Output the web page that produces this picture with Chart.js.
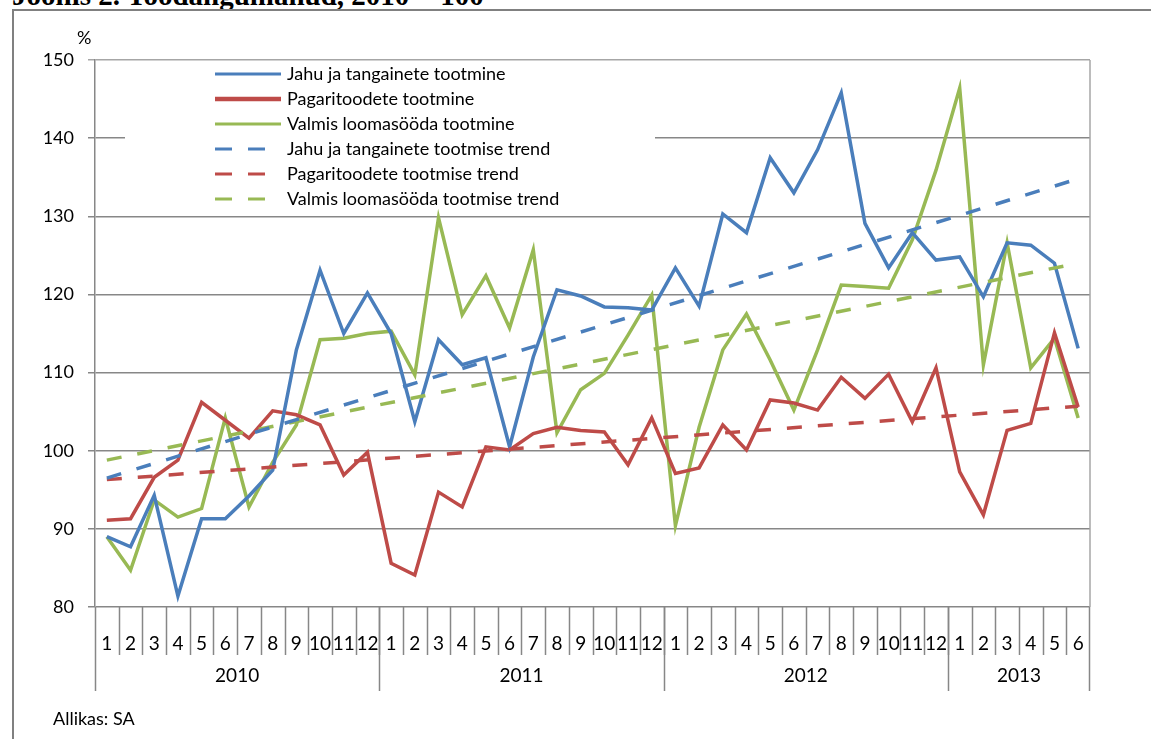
<!DOCTYPE html>
<html>
<head>
<meta charset="utf-8">
<script src="https://cdn.jsdelivr.net/npm/chart.js@4.4.1/dist/chart.umd.min.js"></script>
<style>
  html, body { margin: 0; padding: 0; background: #fff; }
  body { width: 1151px; height: 739px; position: relative; overflow: hidden; font-family: Lato, "Open Sans", sans-serif; }
  #title { position: absolute; left: 12px; top: -21px; font: bold 29px "Liberation Serif", serif; color: #000; white-space: nowrap; }
  #frame { position: absolute; left: 12px; top: 9px; width: 1200px; height: 800px; border-left: 2px solid #808080; border-top: 2px solid #808080; }
  #chart { position: absolute; left: 0; top: 0; }
  #unit { position: absolute; left: 77px; top: 26px; font-size: 18px; color: #000; }
  #source { position: absolute; left: 53px; top: 707px; font-size: 18px; color: #000; }
</style>
</head>
<body>
<div id="title">Joonis 2. Toodangumahud, 2010 = 100</div>
<div id="frame"></div>
<canvas id="chart" width="1151" height="739"></canvas>
<div id="unit">%</div>
<div id="source">Allikas: SA</div>

<script>
  // months per year and the year captions
  const years = ['2010', '2011', '2012', '2013'];
  const monthsPerYear = [12, 12, 12, 6];
  const months = years.flatMap((y, k) => Array.from({ length: monthsPerYear[k] }, (_, m) => String(m + 1)));

  const seriesNames = [
    'Jahu ja tangainete tootmine',
    'Pagaritoodete tootmine',
    'Valmis loomasööda tootmine',
    'Jahu ja tangainete tootmise trend',
    'Pagaritoodete tootmise trend',
    'Valmis loomasööda tootmise trend'
  ];

  const jahu = [89.0, 87.7, 94.3, 81.4, 91.3, 91.3, 94.2, 97.5, 112.9, 123.1, 115.0, 120.2,
                115.0, 103.7, 114.2, 111.0, 111.9, 100.5, 112.0, 120.6, 119.8, 118.4, 118.3, 118.0,
                123.4, 118.5, 130.3, 127.9, 137.5, 133.0, 138.5, 145.8, 129.1, 123.4, 127.9, 124.4,
                124.8, 119.7, 126.6, 126.3, 124.0, 113.1];
  const pagari = [91.1, 91.3, 96.6, 98.8, 106.2, 103.9, 101.6, 105.1, 104.6, 103.3, 96.9, 99.8,
                  85.6, 84.1, 94.7, 92.8, 100.5, 100.1, 102.2, 103.0, 102.6, 102.4, 98.2, 104.2,
                  97.1, 97.8, 103.3, 100.1, 106.5, 106.1, 105.2, 109.4, 106.7, 109.8, 103.7, 110.6,
                  97.3, 91.8, 102.6, 103.5, 115.1, 105.6];
  const sööt = [89.0, 84.7, 93.7, 91.5, 92.6, 104.2, 92.8, 98.5, 103.3, 114.2, 114.4, 115.0,
                115.3, 109.7, 129.8, 117.4, 122.4, 115.7, 125.7, 102.3, 107.8, 109.9, 114.8, 119.9,
                90.4, 103.0, 112.9, 117.5, 111.6, 105.2, 112.9, 121.2, 121.0, 120.8, 127.0, 135.9,
                146.4, 111.0, 126.6, 110.6, 114.4, 104.2];

  // trend lines: value at first and last month
  const jahuTrend = [96.5, 134.8];
  const pagariTrend = [96.3, 105.7];
  const söötTrend = [98.8, 124.0];

  const yTicks = [80, 90, 100, 110, 120, 130, 140, 150];

  const colors = ['#4A7EBB', '#BE4B48', '#98B954'];
  const GRID = '#878787';
  const FONT = 'Lato, "Open Sans", sans-serif';

  function trendData(t) {
    return months.map((_, i) => i === 0 ? t[0] : (i === months.length - 1 ? t[1] : null));
  }

  const datasets = [
    { label: seriesNames[3], data: trendData(jahuTrend), borderColor: colors[0], borderDash: [15, 16], spanGaps: true },
    { label: seriesNames[4], data: trendData(pagariTrend), borderColor: colors[1], borderDash: [15, 16], spanGaps: true },
    { label: seriesNames[5], data: trendData(söötTrend), borderColor: colors[2], borderDash: [15, 16], spanGaps: true },
    { label: seriesNames[0], data: jahu, borderColor: colors[0] },
    { label: seriesNames[1], data: pagari, borderColor: colors[1] },
    { label: seriesNames[2], data: sööt, borderColor: colors[2] }
  ].map(d => Object.assign({ borderWidth: 3.5, pointRadius: 0, tension: 0, fill: false }, d));

  // legend drawn inside the plot, on a white box
  const legendBox = {
    id: 'legendBox',
    beforeDatasetsDraw(chart) {
      const c = chart.ctx;
      const a = chart.chartArea;
      c.save();
      c.fillStyle = '#fff';
      c.fillRect(a.left + 30, a.top + 1, 530, 150);
      c.font = '18px ' + FONT;
      c.textBaseline = 'middle';
      c.fillStyle = '#000';
      seriesNames.forEach((name, i) => {
        const y = a.top + 14 + i * 25;
        const x0 = a.left + 120;
        c.strokeStyle = colors[i % 3];
        c.lineWidth = i === 1 ? 4.5 : 3;
        if (i >= 3) c.setLineDash([17, 16]); else c.setLineDash([]);
        c.beginPath();
        c.moveTo(x0, y);
        c.lineTo(x0 + 66, y);
        c.stroke();
        c.fillText(name, x0 + 72, y);
      });
      c.restore();
    }
  };

  // two-level x axis: month cells, year separators and captions, plus right border
  const axisDecor = {
    id: 'axisDecor',
    afterDraw(chart) {
      const c = chart.ctx;
      const a = chart.chartArea;
      const xs = chart.scales.x;
      const cell = (a.right - a.left) / months.length;
      c.save();
      c.strokeStyle = '#a6a6a6';
      c.lineWidth = 1.5;
      c.beginPath();
      c.moveTo(a.right, a.top);
      c.lineTo(a.right, a.bottom);
      c.stroke();
      c.strokeStyle = GRID;
      c.beginPath();
      for (let i = 1; i < months.length; i++) {
        const x = Math.round(xs.getPixelForValue(i) - cell / 2) + 0.5;
        c.moveTo(x, a.bottom);
        c.lineTo(x, a.bottom + 48);
      }
      c.stroke();
      c.font = '19px ' + FONT;
      c.fillStyle = '#000';
      c.textAlign = 'center';
      c.textBaseline = 'middle';
      let start = 0;
      c.beginPath();
      years.forEach((y, k) => {
        const x0 = xs.getPixelForValue(start) - cell / 2;
        const end = start + monthsPerYear[k];
        const x1 = xs.getPixelForValue(end - 1) + cell / 2;
        c.moveTo(Math.round(x0) + 0.5, a.bottom);
        c.lineTo(Math.round(x0) + 0.5, a.bottom + 84);
        if (k === years.length - 1) {
          c.moveTo(Math.round(x1) - 0.5, a.bottom);
          c.lineTo(Math.round(x1) - 0.5, a.bottom + 84);
        }
        c.fillText(y, (x0 + x1) / 2, a.bottom + 69);
        start = end;
      });
      c.stroke();
      c.restore();
    }
  };

  new Chart(document.getElementById('chart'), {
    type: 'line',
    data: { labels: months, datasets: datasets },
    options: {
      responsive: false,
      devicePixelRatio: 1,
      animation: false,
      layout: { padding: { left: 0, top: 60, right: 61, bottom: 0 } },
      plugins: { legend: { display: false }, tooltip: { enabled: false } },
      scales: {
        x: {
          type: 'category',
          offset: true,
          afterFit(s) { s.height = 132; },
          grid: { display: false },
          border: { display: false },
          ticks: { autoSkip: false, maxRotation: 0, padding: 17, color: '#000', font: { family: 'Lato', size: 19 } }
        },
        y: {
          min: 80,
          max: 150,
          afterFit(s) { s.width = 95; },
          afterBuildTicks(s) { s.ticks = yTicks.map(v => ({ value: v })); },
          grid: {
            color: ctx => ctx.tick && ctx.tick.value === 150 ? '#a6a6a6' : GRID,
            lineWidth: 1.5,
            tickLength: 7
          },
          border: { color: GRID, width: 1.5 },
          ticks: { padding: 14, color: '#000', font: { family: 'Lato', size: 18 } }
        }
      }
    },
    plugins: [legendBox, axisDecor]
  });
</script>
</body>
</html>
